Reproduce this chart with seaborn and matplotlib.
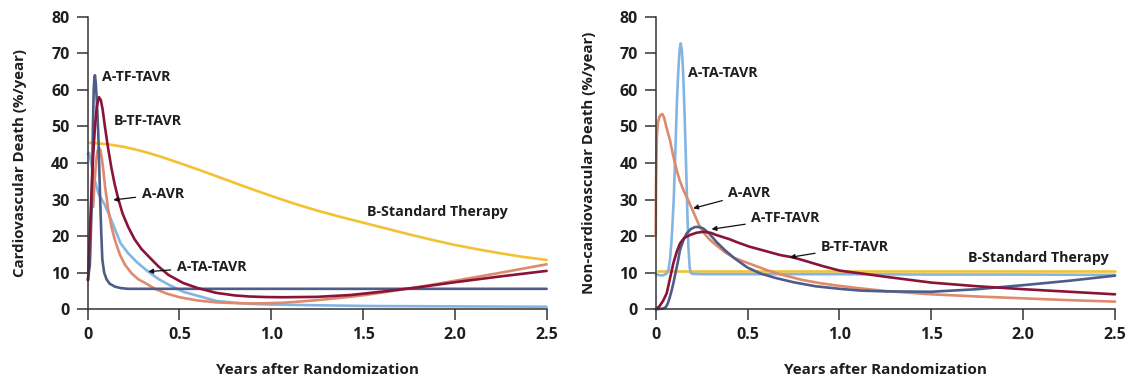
import numpy as np
import pandas as pd
import matplotlib
matplotlib.use("Agg")
import matplotlib.pyplot as plt
import seaborn as sns

# ---------------- Data ----------------
# Left panel: Cardiovascular death (%/year)
cv_atf_x = [0, 0.012, 0.022, 0.028, 0.033, 0.037, 0.040, 0.044, 0.05, 0.058, 0.067, 0.074, 0.080,
            0.09, 0.103, 0.12, 0.148, 0.18, 0.22, 0.5, 1.0, 1.5, 2.0, 2.5]
cv_atf_y = [8, 12, 28, 48, 60, 63.5, 64, 62, 57, 48, 32, 21, 13.6,
            10, 8.2, 7.0, 6.2, 5.8, 5.6, 5.6, 5.6, 5.6, 5.6, 5.6]

cv_btf_x = [0.003, 0.01, 0.02, 0.03, 0.04, 0.05, 0.0615, 0.072, 0.082, 0.094, 0.11, 0.13, 0.148,
            0.167, 0.19, 0.221, 0.255, 0.293, 0.339, 0.384, 0.44, 0.52, 0.6, 0.7, 0.8, 0.88, 0.97,
            1.065, 1.25, 1.43, 1.6, 1.8, 2.0, 2.25, 2.5]
cv_btf_y = [8, 19, 31, 42, 50, 55.5, 58, 57.2, 54.5, 50, 44.5, 38.5, 34,
            30.2, 26.2, 22.5, 19.2, 16.5, 14.1, 11.8, 9.4, 7.2, 5.8, 4.5, 3.8, 3.5, 3.35,
            3.3, 3.4, 3.9, 4.8, 6.0, 7.4, 9.0, 10.5]

cv_aavr_x = [0.03, 0.038, 0.046, 0.054, 0.0615, 0.07, 0.078, 0.085, 0.095, 0.112, 0.13, 0.148,
             0.175, 0.203, 0.24, 0.276, 0.32, 0.367, 0.43, 0.5, 0.6, 0.7, 0.8, 0.88, 0.97, 1.065,
             1.15, 1.25, 1.35, 1.43, 1.54, 1.7, 1.85, 2.0, 2.25, 2.5]
cv_aavr_y = [28, 35, 40.5, 43.3, 44.2, 43.5, 41, 38.2, 33.5, 27.3, 22.5, 19,
             15, 12.2, 9.8, 8.2, 7.0, 5.6, 4.3, 3.3, 2.4, 1.9, 1.7, 1.6, 1.65, 1.8,
             2.1, 2.5, 3.0, 3.4, 4.1, 5.3, 6.5, 7.8, 10.0, 12.3]

cv_ata_x = [0, 0.008, 0.015, 0.025, 0.04, 0.06, 0.094, 0.12, 0.148, 0.18, 0.221, 0.27, 0.33,
            0.385, 0.439, 0.52, 0.584, 0.7, 0.8, 0.88, 1.0, 1.25, 1.54, 2.0, 2.5]
cv_ata_y = [42.5, 42.8, 41, 38.5, 35, 31.5, 28.5, 25.5, 22, 18, 15.3, 12.8, 10.3,
            8.3, 6.8, 4.8, 3.9, 2.3, 1.8, 1.5, 1.3, 1.1, 0.9, 0.8, 0.7]

cv_bst_x = [0.01, 0.1, 0.2, 0.3, 0.4, 0.5, 0.625, 0.75, 0.875, 1.0, 1.125, 1.25, 1.375, 1.5,
            1.625, 1.75, 1.875, 2.0, 2.125, 2.25, 2.375, 2.5]
cv_bst_y = [45.5, 45.2, 44.4, 43.2, 41.7, 40, 37.8, 35.5, 33.2, 31, 28.9, 27, 25.3, 23.7,
            22.1, 20.5, 19, 17.6, 16.4, 15.3, 14.3, 13.5]

# Right panel: Non-cardiovascular death (%/year)
ncv_ata_x = [0, 0.02, 0.04, 0.06, 0.07, 0.078, 0.085, 0.09, 0.098, 0.105, 0.11, 0.115, 0.12,
             0.125, 0.13, 0.136, 0.142, 0.147, 0.152, 0.158, 0.165, 0.172, 0.178, 0.185, 0.19,
             0.2, 0.25, 0.5, 1.0, 1.5, 2.0, 2.5]
ncv_ata_y = [9.7, 9.3, 9.3, 9.8, 11, 13.8, 18, 22, 30, 40, 48, 56, 62,
             67, 71, 72.7, 71, 67, 61, 52, 40, 27, 17, 11.5, 10,
             9.7, 9.6, 9.6, 9.6, 9.5, 9.5, 9.4]

ncv_aavr_x = [0, 0.002, 0.006, 0.012, 0.02, 0.028, 0.036, 0.045, 0.055, 0.065, 0.078, 0.095,
              0.114, 0.13, 0.15, 0.175, 0.2, 0.236, 0.26, 0.291, 0.33, 0.38, 0.43, 0.51, 0.6,
              0.69, 0.8, 0.9, 1.0, 1.12, 1.25, 1.5, 1.75, 2.0, 2.25, 2.5]
ncv_aavr_y = [20, 35, 47, 51, 52.6, 53.2, 53.4, 52.5, 50.5, 48.5, 46.2, 42,
              38.1, 35.3, 32.7, 30, 27.2, 23, 21, 19.2, 17.5, 15.5, 14.0, 12.5, 10.8,
              9.4, 8.0, 7.1, 6.4, 5.7, 5.0, 4.1, 3.5, 3.0, 2.5, 2.1]

ncv_atf_x = [0, 0.04, 0.055, 0.065, 0.075, 0.085, 0.096, 0.11, 0.12, 0.132, 0.15, 0.168, 0.19,
             0.213, 0.235, 0.259, 0.29, 0.331, 0.38, 0.43, 0.5, 0.57, 0.65, 0.75, 0.87, 1.0,
             1.12, 1.25, 1.5, 1.75, 2.0, 2.25, 2.5]
ncv_atf_y = [0, 0.2, 0.6, 1.5, 3.0, 4.8, 7.1, 10.5, 12.8, 16.2, 18.8, 20.7, 21.9,
             22.5, 22.5, 22.1, 20.8, 18.4, 16.0, 13.9, 11.4, 9.8, 8.6, 7.4, 6.3, 5.6,
             5.1, 4.9, 4.8, 5.5, 6.6, 7.8, 9.2]

ncv_btf_x = [0, 0.02, 0.04, 0.06, 0.078, 0.096, 0.115, 0.132, 0.155, 0.186, 0.22, 0.259, 0.3,
             0.331, 0.4, 0.45, 0.512, 0.6, 0.68, 0.748, 0.83, 0.91, 1.0, 1.056, 1.15, 1.25,
             1.5, 1.75, 2.0, 2.25, 2.5]
ncv_btf_y = [0, 0.8, 2.3, 4.4, 8.5, 12.6, 15.8, 18, 19.5, 20.3, 20.9, 21.2, 20.9,
             20.3, 19.2, 18.2, 17.1, 15.9, 14.8, 14.2, 13.0, 11.8, 10.6, 10.2, 9.6, 8.9,
             7.3, 6.3, 5.5, 4.8, 4.1]

ncv_bst_x = [0.01, 2.5]
ncv_bst_y = [10.6, 10.6]

colors = {"A-TF-TAVR": "#4e5d88", "B-TF-TAVR": "#8a1436", "A-AVR": "#df8a6c",
          "A-TA-TAVR": "#84b5e2", "B-Standard Therapy": "#f2c232"}

x_ticks = [0, 0.5, 1.0, 1.5, 2.0, 2.5]
x_ticklabels = ["0", "0.5", "1.0", "1.5", "2.0", "2.5"]
y_ticks = [0, 10, 20, 30, 40, 50, 60, 70, 80]

left_labels = [  # text, text x, text y, arrow tip (x, y) or None
    ("A-TF-TAVR", 0.076, 63.6, None),
    ("B-TF-TAVR", 0.143, 51.5, None),
    ("A-AVR", 0.294, 31.5, (0.14, 29.9)),
    ("A-TA-TAVR", 0.485, 11.6, (0.33, 10.3)),
    ("B-Standard Therapy", 1.52, 26.7, None),
]
right_labels = [
    ("A-TA-TAVR", 0.177, 64.5, None),
    ("A-AVR", 0.395, 31.7, (0.204, 27.6)),
    ("A-TF-TAVR", 0.52, 24.9, (0.304, 21.9)),
    ("B-TF-TAVR", 0.90, 17.1, (0.73, 14.2)),
    ("B-Standard Therapy", 1.70, 13.9, None),
]


def frame(pairs):
    rows = []
    for name, xs, ys in pairs:
        rows.append(pd.DataFrame({"Years": xs, "Rate": ys, "Series": name}))
    return pd.concat(rows, ignore_index=True)


cv_df = frame([
    ("B-Standard Therapy", cv_bst_x, cv_bst_y),
    ("A-TA-TAVR", cv_ata_x, cv_ata_y),
    ("A-AVR", cv_aavr_x, cv_aavr_y),
    ("A-TF-TAVR", cv_atf_x, cv_atf_y),
    ("B-TF-TAVR", cv_btf_x, cv_btf_y),
])
ncv_df = frame([
    ("B-Standard Therapy", ncv_bst_x, ncv_bst_y),
    ("A-TA-TAVR", ncv_ata_x, ncv_ata_y),
    ("A-AVR", ncv_aavr_x, ncv_aavr_y),
    ("A-TF-TAVR", ncv_atf_x, ncv_atf_y),
    ("B-TF-TAVR", ncv_btf_x, ncv_btf_y),
])

sns.set_theme(style="ticks")
plt.rcParams["font.family"] = ["Open Sans", "DejaVu Sans"]

TXT = "#1e1e1e"
fig = plt.figure(figsize=(11.28, 3.79), dpi=100)
ax1 = fig.add_axes([0.0777, 0.1839, 0.4069, 0.772])
ax2 = fig.add_axes([0.5813, 0.1839, 0.4072, 0.772])

for ax, df, labels, ylabel in [
    (ax1, cv_df, left_labels, "Cardiovascular Death (%/year)"),
    (ax2, ncv_df, right_labels, "Non-cardiovascular Death (%/year)"),
]:
    sns.lineplot(data=df, x="Years", y="Rate", hue="Series", palette=colors,
                 estimator=None, sort=False, linewidth=1.9, legend=False, ax=ax)
    for ln in ax.lines:
        ln.set_solid_joinstyle("round")
        ln.set_solid_capstyle("round")
        ln.set_clip_on(False)
    ax.set_xlim(0, 2.5)
    ax.set_ylim(0, 80)
    ax.set_xticks(x_ticks)
    ax.set_xticklabels(x_ticklabels)
    ax.set_yticks(y_ticks)
    ax.tick_params(axis="both", direction="out", length=8, width=1.1,
                   color="#333333", labelsize=11.5, labelcolor=TXT)
    ax.tick_params(axis="x", pad=5)
    ax.tick_params(axis="y", pad=5)
    for lab in ax.get_xticklabels() + ax.get_yticklabels():
        lab.set_fontweight("bold")
    for side in ["top", "right"]:
        ax.spines[side].set_visible(False)
    for side in ["left", "bottom"]:
        ax.spines[side].set_color("#333333")
        ax.spines[side].set_linewidth(1.1)
    ax.set_xlabel("Years after Randomization", fontsize=11, fontweight="bold",
                  color=TXT, labelpad=14)
    ax.set_ylabel(ylabel, fontsize=10.8, fontweight="bold", color=TXT, labelpad=17)
    for text, tx, ty, tip in labels:
        if tip is None:
            ax.text(tx, ty, text, ha="left", va="center", fontsize=10.3,
                    fontweight="bold", color=TXT)
        else:
            ax.annotate(text, xy=tip, xytext=(tx, ty), ha="left", va="center",
                        fontsize=10.3, fontweight="bold", color=TXT,
                        arrowprops=dict(arrowstyle="-|>", color="#111111", lw=0.9,
                                        mutation_scale=7, shrinkA=2, shrinkB=0))

fig.savefig("out.png", dpi=100)
